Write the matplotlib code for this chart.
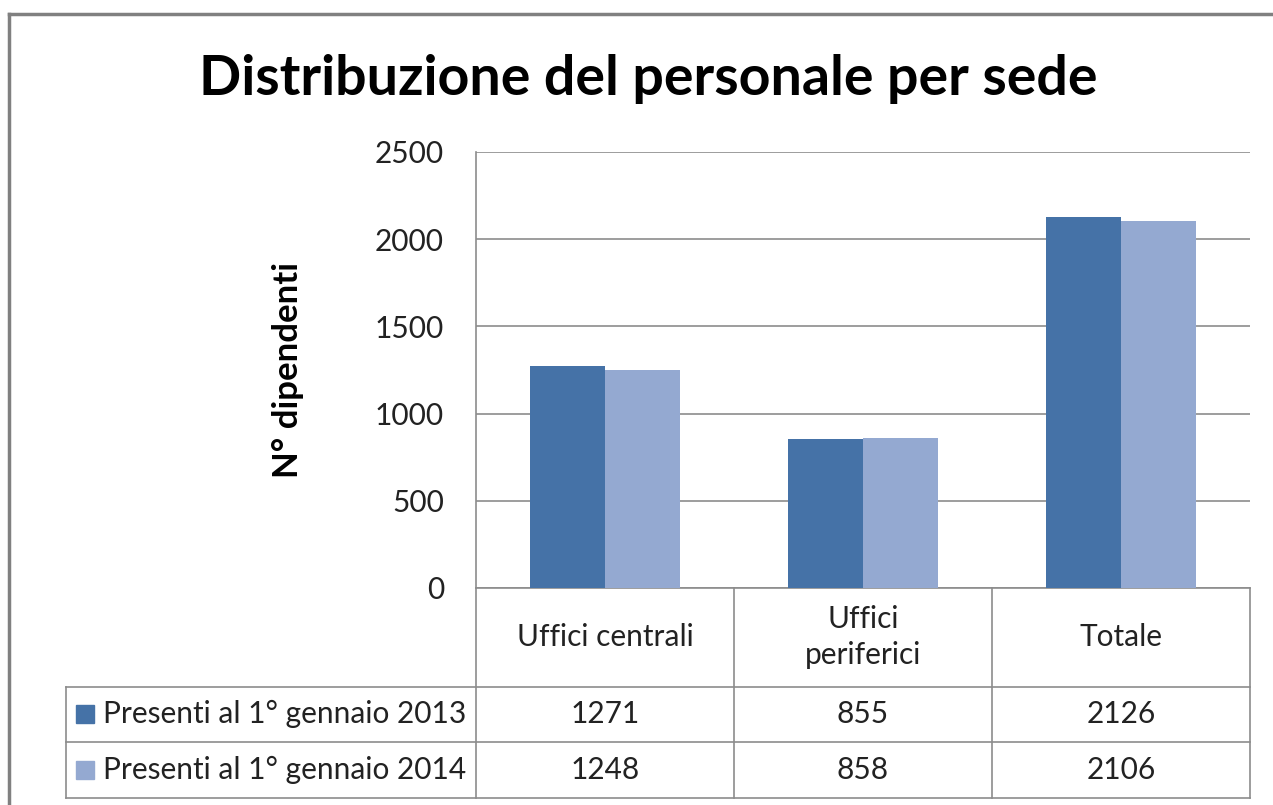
import matplotlib
matplotlib.use('Agg')
import matplotlib.pyplot as plt
from matplotlib.lines import Line2D
from matplotlib.transforms import blended_transform_factory
import numpy as np

categories = ['Uffici centrali', 'Uffici\nperiferici', 'Totale']
series_names = ['Presenti al 1° gennaio 2013', 'Presenti al 1° gennaio 2014']
values_2013 = [1271, 855, 2126]
values_2014 = [1248, 858, 2106]
colors = ['#4572A7', '#94A9D1']
yticks = [0, 500, 1000, 1500, 2000, 2500]

plt.rcParams['font.family'] = ['Lato', 'DejaVu Sans']
grid_col = '#8c8c8c'
txt_col = '#222222'

fig = plt.figure(figsize=(12.73, 8.05), dpi=100)
ax = fig.add_axes([0.3739, 0.2696, 0.6080, 0.5416])

x = np.arange(len(categories))
w = 0.29
ax.bar(x - w / 2, values_2013, width=w, color=colors[0], zorder=3)
ax.bar(x + w / 2, values_2014, width=w, color=colors[1], zorder=3)

ax.set_xlim(-0.5, 2.5)
ax.set_ylim(0, 2500)
ax.set_yticks(yticks)
ax.set_yticklabels([str(t) for t in yticks], fontsize=21.5, color=txt_col)
ax.set_xticks([])
ax.tick_params(axis='y', length=0, pad=23)
ax.yaxis.grid(True, color=grid_col, linewidth=1.2)
for s in ['top', 'right', 'bottom']:
    ax.spines[s].set_visible(False)
ax.spines['left'].set_color(grid_col)
ax.spines['left'].set_linewidth(1.2)

ax.set_ylabel('N° dipendenti', fontsize=25, fontweight='bold', labelpad=51)

# data table under the chart
tr = blended_transform_factory(ax.transData, ax.transAxes)
ta = ax.transAxes
row_y = [0.0, -0.227, -0.353, -0.481]
left_x = -0.5297

def hline(x0, x1, y):
    ax.add_line(Line2D([x0, x1], [y, y], transform=ta, color=grid_col, lw=1.2, clip_on=False))

def vline(xx, y0, y1, trans):
    ax.add_line(Line2D([xx, xx], [y0, y1], transform=trans, color=grid_col, lw=1.2, clip_on=False))

hline(0, 1, row_y[0])
hline(left_x, 1, row_y[1])
hline(left_x, 1, row_y[2])
hline(left_x, 1, row_y[3])
vline(left_x, row_y[1], row_y[3], ta)
vline(0, row_y[0], row_y[3], ta)
vline(1, row_y[0], row_y[3], ta)
for xb in [0.5, 1.5]:
    vline(xb, row_y[0], row_y[3], tr)

for i, cat in enumerate(categories):
    ax.text(i, (row_y[0] + row_y[1]) / 2, cat, transform=tr, ha='center', va='center',
            fontsize=21.5, color=txt_col, linespacing=1.35)

all_vals = [values_2013, values_2014]
for r, (name, vals) in enumerate(zip(series_names, all_vals)):
    yc = (row_y[r + 1] + row_y[r + 2]) / 2
    ax.text(left_x + 0.048, yc, name, transform=ta, ha='left', va='center',
            fontsize=21.5, color=txt_col)
    ax.plot([left_x + 0.025], [yc], marker='s', markersize=13, color=colors[r],
            transform=ta, clip_on=False, linestyle='none')
    for i, v in enumerate(vals):
        ax.text(i, yc, str(v), transform=tr, ha='center', va='center',
                fontsize=21.5, color=txt_col)

fig.text(0.509, 0.902, 'Distribuzione del personale per sede', ha='center', va='center',
         fontsize=40, fontweight='bold', color='black')

# outer chart frame
fig.add_artist(Line2D([9 / 1273, 1], [1 - 14 / 805, 1 - 14 / 805], transform=fig.transFigure,
                      color='#808080', lw=2.5))
fig.add_artist(Line2D([9 / 1273, 9 / 1273], [0, 1 - 14 / 805], transform=fig.transFigure,
                      color='#808080', lw=2.5))

fig.savefig('out.png', dpi=100)
